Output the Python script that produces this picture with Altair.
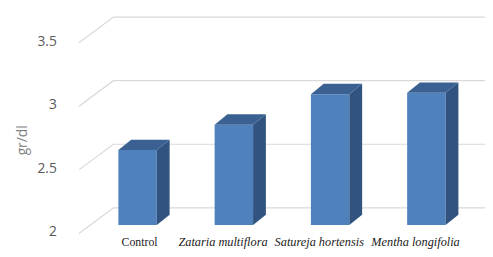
import altair as alt
import pandas as pd

# ---- data ----
categories = ["Control", "Zataria multiflora", "Satureja hortensis", "Mentha longifolia"]
values = [2.59, 2.79, 3.03, 3.04]
y_ticks = [2, 2.5, 3, 3.5]
y_title = "gr/dl"

# ---- projection / layout constants (pixels converted to data units) ----
PX_X = 97.67          # pixels per category step
PX_Y = 129.0          # pixels per unit of value
BAR_HALF = 19.5 / PX_X
DX = 13.0 / PX_X      # bar depth, x
DY = 10.5 / PX_Y      # bar depth, y
BACK_DY = 17.5 / PX_Y     # back wall offset from bar front
FRONT_DY = -8.5 / PX_Y    # floor front edge offset
BACK_X = (115 - 139.5) / PX_X
FRONT_X = (80 - 139.5) / PX_X
X_DOM = [(60 - 139.5) / PX_X, (492 - 139.5) / PX_X]
Y_DOM = [2 - (240 - 226.5) / PX_Y, 2 + (226.5 - 10) / PX_Y]
BASE = y_ticks[0]

xs = alt.Scale(domain=X_DOM, nice=False, zero=False)
ys = alt.Scale(domain=Y_DOM, nice=False, zero=False)

yaxis = alt.Axis(
    values=y_ticks,
    format="~g",
    domain=False,
    ticks=False,
    grid=False,
    labelPadding=3,
    labelOffset=7,
    labelFont="Open Sans",
    labelFontSize=14,
    labelColor="#595959",
    title=y_title,
    titleFont="Open Sans",
    titleFontSize=14,
    titleFontWeight="normal",
    titleColor="#808080",
    titleAngle=270,
    titleAlign="center",
    titleBaseline="middle",
    titleX=-37,
    titleY=130,
)

# bars (front faces)
bars_df = pd.DataFrame({
    "cat": categories,
    "v": values,
    "x0": [i - BAR_HALF for i in range(len(categories))],
    "x1": [i + BAR_HALF for i in range(len(categories))],
    "base": [BASE] * len(categories),
})

side_rows, top_rows = [], []
for i, (c, v) in enumerate(zip(categories, values)):
    xl, xr = i - BAR_HALF, i + BAR_HALF
    side_rows += [
        {"cat": c, "x": xr, "lo": BASE, "hi": v},
        {"cat": c, "x": xr + DX, "lo": BASE + DY, "hi": v + DY},
    ]
    top_rows += [
        {"cat": c, "x": xl, "lo": v, "hi": v},
        {"cat": c, "x": xl + DX, "lo": v, "hi": v + DY},
        {"cat": c, "x": xr, "lo": v, "hi": v + DY},
        {"cat": c, "x": xr + DX, "lo": v + DY, "hi": v + DY},
    ]
side_df = pd.DataFrame(side_rows)
top_df = pd.DataFrame(top_rows)

grid_rows = []
for g in y_ticks:
    grid_rows += [
        {"g": g, "x": FRONT_X, "y": g + FRONT_DY, "o": 0},
        {"g": g, "x": BACK_X, "y": g + BACK_DY, "o": 1},
        {"g": g, "x": X_DOM[1], "y": g + BACK_DY, "o": 2},
    ]
grid_df = pd.DataFrame(grid_rows)

lab_df = pd.DataFrame({"cat": categories, "i": list(range(len(categories)))})

grid = alt.Chart(grid_df).mark_line(color="#d9d9d9", strokeWidth=1.2).encode(
    x=alt.X("x:Q", scale=xs, axis=None),
    y=alt.Y("y:Q", scale=ys, axis=yaxis),
    detail="g:N",
    order="o:Q",
)

front = alt.Chart(bars_df).mark_rect(color="#4f81bd").encode(
    x=alt.X("x0:Q", scale=xs, axis=None),
    x2="x1:Q",
    y=alt.Y("v:Q", scale=ys, axis=yaxis),
    y2="base:Q",
)

side = alt.Chart(side_df).mark_area(color="#30547f", opacity=1).encode(
    x=alt.X("x:Q", scale=xs, axis=None),
    y=alt.Y("lo:Q", scale=ys, axis=yaxis, stack=None),
    y2="hi:Q",
    detail="cat:N",
)

top = alt.Chart(top_df).mark_area(color="#3a6192", opacity=1).encode(
    x=alt.X("x:Q", scale=xs, axis=None),
    y=alt.Y("lo:Q", scale=ys, axis=yaxis, stack=None),
    y2="hi:Q",
    detail="cat:N",
)

lab_normal = alt.Chart(lab_df).transform_filter("datum.cat == 'Control'").mark_text(
    font="Liberation Serif", fontSize=12, color="#1a1a1a", dx=2, baseline="middle"
).encode(x=alt.X("i:Q", scale=xs, axis=None), y=alt.value(234), text="cat:N")

lab_italic = alt.Chart(lab_df).transform_filter("datum.cat != 'Control'").mark_text(
    font="Liberation Serif", fontSize=12.5, fontStyle="italic", color="#1a1a1a", dx=-11, baseline="middle"
).encode(x=alt.X("i:Q", scale=xs, axis=None), y=alt.value(234), text="cat:N")

chart = alt.layer(grid, front, side, top, lab_normal, lab_italic).properties(
    width=432,
    height=230,
    padding={"left": 52, "top": 2, "right": 0, "bottom": 9},
    autosize=alt.AutoSizeParams(type="none"),
    background="white",
).configure_view(stroke=None)

chart.save("out.html", embed_options={"renderer": "svg", "actions": False})
